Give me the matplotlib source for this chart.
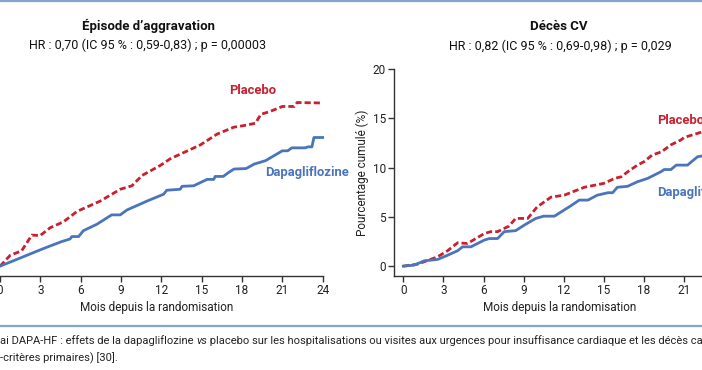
import matplotlib
matplotlib.use("Agg")
import matplotlib.pyplot as plt
from matplotlib.lines import Line2D

# ---------------- data ----------------
months_ticks = [0, 3, 6, 9, 12, 15, 18, 21, 24]
y_ticks = [0, 5, 10, 15, 20]

# Panel 1: Épisode d'aggravation
wp_months = [0, 0.75, 1.6, 2.36, 2.98, 3.73, 4.72, 5.72, 7.45, 8.94, 9.81, 10.56, 11.9,
             12.67, 14.9, 16.15, 17.4, 18.1, 19.0, 19.4, 20.1, 21.0, 21.9, 22.1, 24.0]
wp_placebo = [0, 1.1, 1.55, 3.15, 3.1, 3.9, 4.5, 5.55, 6.6, 7.8, 8.15, 9.2, 10.2,
              10.9, 12.3, 13.4, 14.1, 14.25, 14.5, 15.4, 15.7, 16.2, 16.2, 16.6, 16.55]
wd_months = [0, 1.0, 1.99, 2.98, 3.73, 4.6, 5.2, 5.34, 5.84, 6.2, 7.2, 8.3, 8.94, 9.44,
             10.93, 12.17, 12.4, 13.4, 13.54, 14.4, 15.4, 15.9, 16.0, 16.6, 17.0, 17.4,
             18.3, 18.9, 19.75, 20.25, 21.0, 21.4, 21.7, 22.7, 22.9, 23.2, 23.35, 24.0]
wd_dapa = [0, 0.55, 1.1, 1.65, 2.05, 2.5, 2.75, 3.0, 3.0, 3.6, 4.25, 5.2, 5.2, 5.7,
           6.6, 7.3, 7.7, 7.8, 8.1, 8.15, 8.8, 8.8, 9.1, 9.1, 9.5, 9.85,
           9.9, 10.35, 10.7, 11.1, 11.7, 11.7, 12.0, 12.0, 12.1, 12.1, 13.05, 13.05]

# Panel 2: Décès CV
cp_months = [0, 1.07, 2.57, 3.3, 4.06, 4.8, 6.05, 6.55, 7.05, 7.9, 8.4, 9.3, 10.0, 11.04,
             12.03, 13.53, 15.0, 15.8, 16.3, 16.8, 17.5, 18.0, 18.6, 19.3, 20.0, 20.75,
             21.0, 22.3, 24.0]
cp_placebo = [0, 0.2, 0.95, 1.55, 2.37, 2.3, 3.3, 3.5, 3.5, 4.06, 4.84, 4.84, 6.0, 7.0,
              7.2, 8.0, 8.4, 8.9, 9.07, 9.6, 10.25, 10.6, 11.27, 11.6, 12.3, 12.8,
              13.06, 13.6, 14.0]
cd_months = [0, 0.8, 1.57, 2.57, 3.3, 4.06, 4.43, 5.06, 6.05, 6.43, 7.05, 7.55, 8.4, 9.04,
             9.9, 10.5, 11.3, 12.03, 12.5, 13.15, 13.8, 14.5, 15.3, 15.65, 16.0, 16.77,
             17.5, 18.26, 19.26, 19.5, 20.0, 20.4, 21.25, 21.55, 22.0, 22.3, 24.0]
cd_dapa = [0, 0.1, 0.54, 0.68, 1.1, 1.56, 1.96, 1.96, 2.64, 2.8, 2.8, 3.5, 3.6, 4.16,
           4.84, 5.07, 5.07, 5.7, 6.1, 6.7, 6.7, 7.2, 7.45, 7.45, 8.0, 8.1,
           8.56, 8.9, 9.58, 9.8, 9.8, 10.25, 10.25, 10.6, 11.1, 11.17, 11.6]

titles = ["Épisode d\u2019aggravation", "Décès CV"]
subtitles = ["HR : 0,70 (IC 95 % : 0,59-0,83) ; p = 0,00003",
             "HR : 0,82 (IC 95 % : 0,69-0,98) ; p = 0,029"]
xlabel = "Mois depuis la randomisation"
ylabel = "Pourcentage cumulé (%)"
caption1a = "ai DAPA-HF : effets de la dapagliflozine "
caption1b = "vs"
caption1c = " placebo sur les hospitalisations ou visites aux urgences pour insuffisance cardiaque et les décès cardiovasculaires"
caption2 = "-critères primaires) [30]."

# ---------------- style ----------------
FAM = ["Liberation Sans Narrow", "Roboto", "DejaVu Sans"]
plt.rcParams["font.family"] = FAM
RED = "#c8202f"
BLUE = "#4a74bb"
AXC = "#333333"
FRAME = "#85a3cf"

W, H = 702, 370
fig = plt.figure(figsize=(W / 100, H / 100), dpi=100)
fig.patch.set_facecolor("white")

def fx(px):
    return px / W

def fy(py):
    return 1 - py / H

xlim = (-0.67, 24)
ylim = (-1, 20)
ax_top, ax_bot = 69, 276
ax1 = fig.add_axes([fx(0.1 - 0.67 * 13.44), fy(ax_bot), 24.67 * 13.44 / W, (ax_bot - ax_top) / H])
ax2 = fig.add_axes([fx(394.3), fy(ax_bot), 24.67 * 13.38 / W, (ax_bot - ax_top) / H])

for ax in (ax1, ax2):
    ax.set_xlim(*xlim)
    ax.set_ylim(*ylim)
    ax.set_xticks(months_ticks)
    ax.set_yticks(y_ticks)
    for s in ("top", "right"):
        ax.spines[s].set_visible(False)
    for s in ("left", "bottom"):
        ax.spines[s].set_color(AXC)
        ax.spines[s].set_linewidth(1.0)
    ax.spines["left"].set_bounds(ylim[0], 20)
    ax.tick_params(axis="both", length=4, width=1.0, color=AXC, labelsize=8.5,
                   labelcolor="#222222", pad=2)
    ax.set_xlabel(xlabel, fontsize=8.5, color="#222222", labelpad=3)
    ax.patch.set_alpha(0)

# left panel's y axis lies outside the visible crop
ax1.tick_params(axis="y", labelleft=False)
ax2.set_ylabel(ylabel, fontsize=8.5, color="#222222", labelpad=3)

lw = 2.0
ax1.plot(wp_months, wp_placebo, color=RED, lw=lw, ls=(0, (2.2, 1.1)), clip_on=False)
ax1.plot(wd_months, wd_dapa, color=BLUE, lw=lw, clip_on=False)
ax2.plot(cp_months, cp_placebo, color=RED, lw=lw, ls=(0, (2.2, 1.1)), clip_on=False)
ax2.plot(cd_months, cd_dapa, color=BLUE, lw=lw, clip_on=False)

lab_kw = dict(fontsize=9.4, fontweight="bold", va="center")
ax1.text(18.8, 17.8, "Placebo", color=RED, ha="center", **lab_kw)
ax1.text(19.7, 9.5, "Dapagliflozine", color=BLUE, ha="left", **lab_kw)
ax2.text(19.0, 14.8, "Placebo", color=RED, ha="left", **lab_kw)
ax2.text(19.0, 7.5, "Dapagliflozine", color=BLUE, ha="left", **lab_kw)

# titles
fig.text(fx(148), fy(26), titles[0], ha="center", va="center", fontsize=9.5,
         fontweight="bold", color="#111111")
fig.text(fx(148), fy(45), subtitles[0], ha="center", va="center", fontsize=9,
         color="#111111")
fig.text(fx(559), fy(27), titles[1], ha="center", va="center", fontsize=9.5,
         fontweight="bold", color="#111111")
fig.text(fx(560), fy(46), subtitles[1], ha="center", va="center", fontsize=9,
         color="#111111")

# frame lines
fig.add_artist(Line2D([0, 1], [fy(1), fy(1)], color=FRAME, lw=1.6, transform=fig.transFigure))
fig.add_artist(Line2D([0, 1], [fy(326), fy(326)], color=FRAME, lw=1.6, transform=fig.transFigure))

# caption
cap_kw = dict(fontsize=8.0, color="#222222", va="baseline")
t1 = fig.text(0, fy(344), caption1a, ha="left", **cap_kw)
t2 = fig.text(0, 0, caption1b, ha="left", style="italic", **cap_kw)
t3 = fig.text(0, 0, caption1c, ha="left", **cap_kw)
fig.canvas.draw()
r = fig.canvas.get_renderer()
bb = t1.get_window_extent(r)
t2.set_position((bb.x1 / W, fy(344)))
bb2 = t2.get_window_extent(r)
t3.set_position((bb2.x1 / W, fy(344)))
fig.text(0, fy(361), caption2, ha="left", **cap_kw)

fig.savefig("out.png", dpi=100, facecolor="white")
